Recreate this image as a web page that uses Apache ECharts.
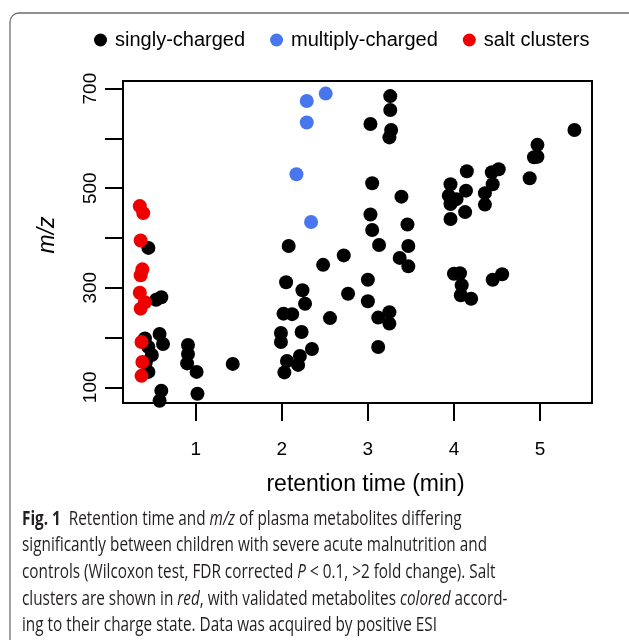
<!DOCTYPE html>
<html>
<head>
<meta charset="utf-8">
<script src="https://cdn.jsdelivr.net/npm/echarts@6/dist/echarts.min.js"></script>
<style>
  html, body { margin: 0; padding: 0; background: #fff; }
  #chart { width: 629px; height: 640px; }
</style>
</head>
<body>
<div id="chart"></div>
<script>
// [retention time (min), m/z]
const singlyCharged = [
  [0.45, 380], [0.54, 276], [0.60, 281], [0.58, 207], [0.62, 187], [0.41, 198],
  [0.45, 181], [0.49, 165], [0.45, 131], [0.42, 150], [0.91, 185], [0.91, 167],
  [0.90, 148], [1.01, 131], [1.43, 147], [0.60, 93], [0.58, 73], [1.02, 87],
  [2.08, 384], [2.48, 346], [2.72, 365], [2.05, 311], [2.24, 295], [2.27, 268],
  [2.02, 248], [2.12, 247], [2.56, 239], [2.77, 288], [3.00, 316], [3.00, 273],
  [3.12, 240], [3.25, 251], [3.25, 228], [1.99, 209], [1.99, 191], [2.23, 211],
  [2.35, 177], [2.06, 153], [2.21, 163], [2.19, 145], [2.03, 130], [3.12, 181],
  [3.05, 416], [3.13, 386], [3.46, 427], [3.47, 384], [3.37, 360], [3.47, 343],
  [3.26, 685], [3.26, 657], [3.03, 629], [3.27, 617], [3.25, 602], [3.05, 510],
  [3.39, 483], [3.03, 447],
  [5.40, 617], [4.97, 587], [4.97, 563], [4.93, 562], [4.88, 520], [4.52, 538],
  [4.44, 532], [4.45, 508], [4.15, 534], [3.96, 508], [4.14, 495], [3.94, 485],
  [3.96, 468], [4.13, 452], [3.96, 438], [4.36, 490], [4.36, 467], [4.03, 478],
  [4.00, 328], [4.07, 329], [4.09, 305], [4.08, 285], [4.20, 278], [4.45, 316],
  [4.56, 327]
];
const multiplyCharged = [
  [2.29, 675], [2.51, 690], [2.29, 632], [2.17, 528], [2.34, 432]
];
const saltClusters = [
  [0.35, 464], [0.39, 450], [0.36, 395], [0.38, 337], [0.36, 325], [0.35, 290],
  [0.41, 271], [0.36, 258], [0.37, 191], [0.38, 151], [0.37, 123]
];

const xTicks = [1, 2, 3, 4, 5];
const yTicks = [100, 200, 300, 400, 500, 600, 700];
const yLabels = [100, 300, 500, 700];

const axisFont = 'Liberation Sans, Arial, Helvetica, sans-serif';
const captionFont = '"Open Sans", "DejaVu Sans", sans-serif';

const captionLines = [
  '{b|Fig. 1}  Retention time and {i|m/z} of plasma metabolites differing',
  'significantly between children with severe acute malnutrition and',
  'controls (Wilcoxon test, FDR corrected {i|P} < 0.1, >2 fold change). Salt',
  'clusters are shown in {i|red}, with validated metabolites {i|colored} accord-',
  'ing to their charge state. Data was acquired by positive ESI'
];

// squeeze the caption font so the second line spans ~465px, like the condensed original
const measure = document.createElement('canvas').getContext('2d');
measure.font = '20px ' + captionFont;
const captionScale = 465 / measure.measureText(captionLines[1]).width;

const captionRich = {
  b: { fontFamily: captionFont, fontSize: 20, fontWeight: 'bold', fill: '#231f20' },
  i: { fontFamily: captionFont, fontSize: 20, fontStyle: 'italic', fill: '#231f20' }
};

const chart = echarts.init(document.getElementById('chart'));

const graphics = [
  {
    type: 'rect',
    shape: { x: 10, y: 13, width: 700, height: 700, r: 9 },
    style: { fill: 'none', stroke: '#6d6d6d', lineWidth: 1.3 },
    silent: true
  }
];
captionLines.forEach((line, i) => {
  graphics.push({
    type: 'text',
    x: 22,
    y: 519 + i * 26.6,
    scaleX: captionScale,
    style: {
      text: line,
      x: 0,
      y: 0,
      verticalAlign: 'middle',
      fontFamily: captionFont,
      fontSize: 20,
      fill: '#231f20',
      rich: captionRich
    },
    silent: true
  });
});

const option = {
  animation: false,
  backgroundColor: '#fff',
  legend: {
    left: 94,
    top: 30,
    padding: 0,
    itemGap: 25,
    itemWidth: 19,
    itemHeight: 13,
    icon: 'circle',
    textStyle: { fontFamily: axisFont, fontSize: 20, color: '#000' },
    data: ['singly-charged', 'multiply-charged', 'salt clusters']
  },
  grid: {
    left: 123,
    top: 81,
    right: 37,
    bottom: 237,
    show: true,
    borderWidth: 2,
    borderColor: '#000',
    containLabel: false
  },
  xAxis: {
    type: 'value',
    min: 0.155,
    max: 5.604,
    name: 'retention time (min)',
    nameLocation: 'middle',
    nameGap: 70,
    nameTextStyle: { fontFamily: axisFont, fontSize: 23, color: '#000', padding: [0, 0, 0, 16] },
    axisLine: { show: false },
    axisTick: {
      show: true,
      length: 18,
      customValues: xTicks,
      lineStyle: { color: '#000', width: 2 }
    },
    axisLabel: {
      customValues: xTicks,
      margin: 37,
      fontFamily: axisFont,
      fontSize: 19,
      color: '#000'
    },
    splitLine: { show: false }
  },
  yAxis: {
    type: 'value',
    min: 68.5,
    max: 715.3,
    name: 'm/z',
    nameLocation: 'middle',
    nameGap: 64,
    nameTextStyle: {
      fontFamily: axisFont, fontSize: 23, fontStyle: 'italic', color: '#000',
      padding: [0, 0, 0, 14]
    },
    axisLine: { show: false },
    axisTick: {
      show: true,
      length: 18,
      customValues: yTicks,
      lineStyle: { color: '#000', width: 2 }
    },
    axisLabel: {
      customValues: yLabels,
      rotate: 90,
      margin: 23,
      fontFamily: axisFont,
      fontSize: 19,
      color: '#000'
    },
    splitLine: { show: false }
  },
  series: [
    {
      name: 'singly-charged',
      type: 'scatter',
      symbolSize: 14,
      itemStyle: { color: '#000', opacity: 1 },
      data: singlyCharged
    },
    {
      name: 'multiply-charged',
      type: 'scatter',
      symbolSize: 14,
      itemStyle: { color: '#4876ee', opacity: 1 },
      data: multiplyCharged
    },
    {
      name: 'salt clusters',
      type: 'scatter',
      symbolSize: 14,
      itemStyle: { color: '#ee0000', opacity: 1 },
      data: saltClusters
    }
  ],
  graphic: graphics
};

chart.setOption(option);
</script>
</body>
</html>
